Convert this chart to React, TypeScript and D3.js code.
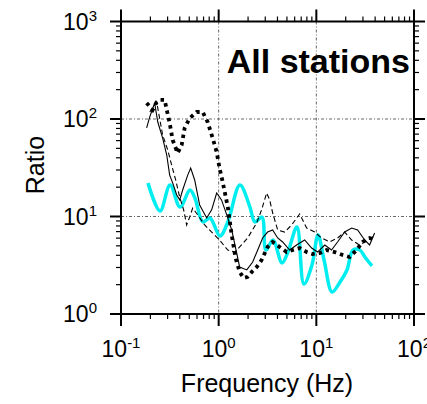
import React from "react";
import * as d3 from "d3";

const xDecades = [-1, 0, 1, 2];
const yDecades = [0, 1, 2, 3];
const title = "All stations";
const xLabel = "Frequency (Hz)";
const yLabel = "Ratio";

const solidF = [0.183, 0.197, 0.221, 0.238, 0.267, 0.294, 0.315, 0.338, 0.372, 0.399, 0.428, 0.482, 0.517, 0.568, 0.639, 0.754, 0.848, 0.954, 1.07, 1.21, 1.36, 1.53, 1.64, 1.94, 2.23, 2.51, 2.82, 3.17, 3.57, 4.02, 4.52, 5.33, 6.28, 7.59, 8.95, 10.3, 12.2, 14.3, 16.5, 19.5, 23.0, 26.5, 31.2, 35.1, 39.5];
const solidR = [80.9, 105, 146, 93.1, 63.8, 42.7, 26.6, 22.1, 16.6, 14.8, 18.7, 26.6, 31.4, 23.7, 13.1, 9.66, 11.7, 17.4, 14.8, 10.4, 7.27, 4.22, 3.03, 2.83, 3.41, 4.53, 6.02, 6.93, 7.27, 6.02, 5.48, 4.53, 5.10, 5.74, 4.75, 4.32, 5.10, 4.53, 5.48, 6.93, 7.62, 7.27, 5.74, 5.10, 6.77];

const dashedF = [0.197, 0.232, 0.267, 0.301, 0.330, 0.363, 0.399, 0.438, 0.470, 0.505, 0.542, 0.610, 0.719, 0.848, 1.02, 1.24, 1.46, 1.64, 1.98, 2.45, 2.75, 3.10, 3.33, 3.57, 4.02, 4.74, 5.58, 6.75, 7.96, 9.61, 11.3, 13.7, 16.5, 19.5, 23.0, 27.7, 33.5, 39.5];
const dashedR = [118, 149, 68.5, 48.1, 33.7, 23.7, 15.8, 11.7, 8.18, 9.88, 12.2, 10.4, 8.18, 6.93, 5.74, 4.53, 4.32, 4.87, 6.02, 8.58, 11.7, 17.4, 14.8, 10.9, 7.27, 6.93, 8.18, 10.6, 7.62, 6.93, 6.02, 5.48, 6.02, 6.93, 5.74, 5.10, 5.74, 6.31];

const dottedF = [0.183, 0.211, 0.232, 0.249, 0.280, 0.294, 0.315, 0.338, 0.380, 0.418, 0.449, 0.505, 0.596, 0.686, 0.771, 0.868, 0.954, 1.02, 1.10, 1.24, 1.36, 1.49, 1.64, 1.80, 1.98, 2.18, 2.45, 2.75, 3.17, 3.57, 4.21, 4.97, 5.72, 6.75, 7.96, 9.16, 10.8, 12.7, 15.4, 18.6, 21.9, 25.8, 29.8, 35.1, 39.5];
const dottedR = [146, 124, 149, 157, 157, 124, 91.0, 60.9, 44.8, 54.1, 80.9, 102, 118, 118, 93.1, 63.8, 45.9, 31.4, 22.6, 12.5, 6.46, 3.75, 2.70, 2.34, 2.40, 2.70, 3.03, 3.58, 4.87, 5.48, 4.87, 4.32, 4.53, 4.75, 4.32, 4.12, 4.22, 4.53, 4.32, 4.03, 3.84, 4.53, 5.48, 6.02, 5.74];

const cyanF = [0.189, 0.251, 0.318, 0.402, 0.508, 0.571, 0.690, 0.815, 1.03, 1.24, 1.65, 2.09, 2.35, 2.77, 3.05, 3.60, 4.45, 5.12, 6.33, 7.46, 9.02, 10.4, 12.0, 14.5, 17.5, 20.6, 23.7, 27.9, 31.4, 37.1];
const cyanR = [22.1, 11.4, 21.0, 12.5, 18.7, 15.5, 8.79, 9.66, 6.31, 8.79, 21.0, 12.5, 8.79, 9.88, 4.53, 5.74, 3.34, 4.32, 7.80, 2.03, 3.18, 6.46, 3.58, 1.68, 2.13, 2.83, 4.53, 4.53, 3.84, 3.11];

const W = 427;
const H = 404;
const L = 121, R = 414, T = 21.5, B = 314;
const FONT = "'Liberation Sans', Arial, Helvetica, sans-serif";

export default function App() {
  const x = d3.scaleLog().domain([0.1, 100]).range([L, R]);
  const y = d3.scaleLog().domain([1, 1000]).range([B, T]);

  const mk = (fs: number[], rs: number[], curve: any) =>
    d3.line<number>().x((_, i) => x(fs[i])).y((_, i) => y(rs[i])).curve(curve)(fs.map((_, i) => i)) || "";

  const minorX: number[] = [];
  for (const e of [-1, 0, 1]) for (let k = 2; k <= 9; k++) minorX.push(k * Math.pow(10, e));
  const minorY: number[] = [];
  for (const e of [0, 1, 2]) for (let k = 2; k <= 9; k++) minorY.push(k * Math.pow(10, e));

  const gridStyle = { stroke: "#666", strokeWidth: 1, strokeDasharray: "3 2 1 2", fill: "none" };

  return (
    <svg width={W} height={H} style={{ position: "absolute", left: 0, top: 0, background: "#fff" }} fontFamily={FONT}>
      <rect x={0} y={0} width={W} height={H} fill="#fff" />
      {/* grid */}
      {[1, 10].map((v) => (
        <line key={"gx" + v} x1={x(v)} x2={x(v)} y1={T} y2={B} style={gridStyle} />
      ))}
      {[10, 100].map((v) => (
        <line key={"gy" + v} x1={L} x2={R} y1={y(v)} y2={y(v)} style={gridStyle} />
      ))}
      {/* data */}
      <path d={mk(cyanF, cyanR, d3.curveCatmullRom.alpha(0.5))} fill="none" stroke="#00eef0" strokeWidth={3.5} strokeLinejoin="round" />
      <path d={mk(solidF, solidR, d3.curveLinear)} fill="none" stroke="#000" strokeWidth={1.1} />
      <path d={mk(dashedF, dashedR, d3.curveLinear)} fill="none" stroke="#000" strokeWidth={1.1} strokeDasharray="5 3" />
      <path d={mk(dottedF, dottedR, d3.curveLinear)} fill="none" stroke="#000" strokeWidth={3.8} strokeDasharray="3.5 4" />
      {/* frame */}
      <rect x={L} y={T} width={R - L} height={B - T} fill="none" stroke="#000" strokeWidth={2} />
      {/* x ticks */}
      {xDecades.map((e) => {
        const px = x(Math.pow(10, e));
        return (
          <g key={"xt" + e}>
            <line x1={px} x2={px} y1={B} y2={B + 12} stroke="#000" strokeWidth={2} />
            <line x1={px} x2={px} y1={T} y2={T - 12} stroke="#000" strokeWidth={2} />
            <text x={px} y={357} textAnchor="middle" fontSize={23} fill="#000">
              10<tspan fontSize={15} dy={-9}>{e}</tspan>
            </text>
          </g>
        );
      })}
      {minorX.map((v) => (
        <g key={"mx" + v}>
          <line x1={x(v)} x2={x(v)} y1={B} y2={B + 5} stroke="#000" strokeWidth={1.2} />
          <line x1={x(v)} x2={x(v)} y1={T} y2={T - 5} stroke="#000" strokeWidth={1.2} />
        </g>
      ))}
      {/* y ticks */}
      {yDecades.map((e) => {
        const py = y(Math.pow(10, e));
        return (
          <g key={"yt" + e}>
            <line x1={L - 11} x2={L} y1={py} y2={py} stroke="#000" strokeWidth={2} />
            <line x1={R} x2={R + 11} y1={py} y2={py} stroke="#000" strokeWidth={2} />
            <text x={97} y={py + 8} textAnchor="end" fontSize={23} fill="#000">
              10<tspan fontSize={15} dy={-9}>{e}</tspan>
            </text>
          </g>
        );
      })}
      {minorY.map((v) => (
        <g key={"my" + v}>
          <line x1={L - 5} x2={L} y1={y(v)} y2={y(v)} stroke="#000" strokeWidth={1.2} />
          <line x1={R} x2={R + 5} y1={y(v)} y2={y(v)} stroke="#000" strokeWidth={1.2} />
        </g>
      ))}
      {/* titles */}
      <text x={267} y={392} textAnchor="middle" fontSize={25} fill="#000">{xLabel}</text>
      <text transform={`translate(44,165) rotate(-90)`} textAnchor="middle" fontSize={25} fill="#000">{yLabel}</text>
      <text x={410} y={73} textAnchor="end" fontSize={34} fontWeight="bold" fill="#000">{title}</text>
    </svg>
  );
}
